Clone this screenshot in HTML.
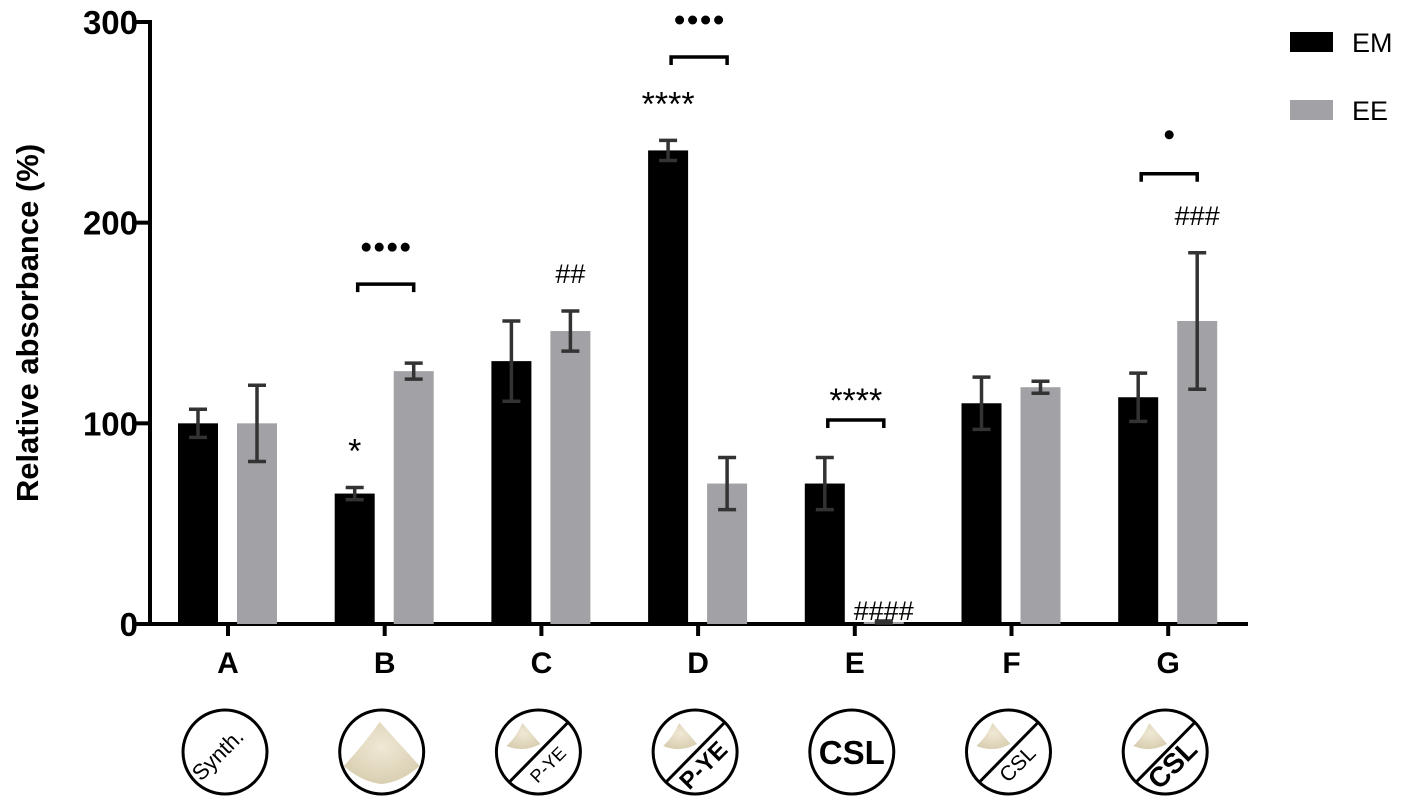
<!DOCTYPE html>
<html><head><meta charset="utf-8"><style>
body{margin:0;background:#fff;}
svg{display:block;font-family:"Liberation Sans",sans-serif;}
</style></head><body>
<svg id="c" width="1417" height="810">
<defs><radialGradient id="pw" cx="50%" cy="40%" r="60%"><stop offset="0" stop-color="#efe8d4"/><stop offset="1" stop-color="#d9cfb2"/></radialGradient></defs>
</svg>
<script>
const categories=["A","B","C","D","E","F","G"];
const emValues=[100,65,131,236,70,110,113];
const emErrors=[7,3,20,5,13,13,12];
const eeValues=[100,126,146,70,1,118,151];
const eeErrors=[19,4,10,13,0.5,3,34];
const yTicks=[0,100,200,300];
const annotations=[{g:1,s:"em",t:"*"},{g:2,s:"ee",t:"##"},{g:3,s:"em",t:"****"},{g:4,s:"em",t:"****",br:true},{g:4,s:"ee",t:"####"},{g:6,s:"ee",t:"###"}];
const svg=document.getElementById('c');
const NS="http://www.w3.org/2000/svg";
function el(tag,attrs,parent){const e=document.createElementNS(NS,tag);for(const k in attrs)e.setAttribute(k,attrs[k]);(parent||svg).appendChild(e);return e;}
const y0=624,yTop=22,x0=150;
function yS(v){return y0-(v/300)*(y0-yTop);}
function xC(i){return 228+i*156.7;}
let a=el('line',{x1:x0,y1:yTop-2,x2:x0,y2:y0+2,stroke:'#000','stroke-width':4});

a=el('line',{x1:x0-2,y1:y0,x2:1248,y2:y0,stroke:'#000','stroke-width':4});

yTicks.forEach(v=>{
 let t=el('line',{x1:x0-14,y1:yS(v),x2:x0,y2:yS(v),stroke:'#000','stroke-width':4});
 
 let l=el('text',{x:x0-12,y:yS(v)+12,'text-anchor':'end','font-size':33,'font-weight':'bold'});l.textContent=v;
 
});
let yl=el('text',{x:0,y:0,transform:'translate(38,323) rotate(-90)','text-anchor':'middle','font-size':31,'font-weight':'bold'});
yl.textContent='Relative absorbance (%)';

function bar(x,v,e,col,name){
 let r=el('rect',{x:x,y:yS(v),width:40,height:y0-yS(v),fill:col});
 
 const cx=x+20,g=el('g',{stroke:'#333','stroke-width':3.5});
 
 el('line',{x1:cx,y1:yS(v+e),x2:cx,y2:yS(v-e)},g);
 el('line',{x1:cx-9,y1:yS(v+e),x2:cx+9,y2:yS(v+e)},g);
 el('line',{x1:cx-9,y1:yS(v-e),x2:cx+9,y2:yS(v-e)},g);
}
categories.forEach((c,i)=>{
 bar(xC(i)-50,emValues[i],emErrors[i],'#000','bar-em-'+c);
 bar(xC(i)+9,eeValues[i],eeErrors[i],'#a2a2a6','bar-ee-'+c);
 let t=el('line',{x1:xC(i),y1:y0,x2:xC(i),y2:y0+12,stroke:'#000','stroke-width':4});
 
 let l=el('text',{x:xC(i),y:673,'text-anchor':'middle','font-size':30,'font-weight':'bold'});l.textContent=c;
 
});
const brackets=[{g:1,dots:4},{g:3,dots:4},{g:4,dots:0},{g:6,dots:1}];
brackets.forEach(b=>{
 const top=Math.max(emValues[b.g]+emErrors[b.g],eeValues[b.g]+eeErrors[b.g]);
 let by=yS(top)-79; if(b.g==4)by=420; if(b.g==3)by=57;
 const cx=xC(b.g),g=el('g',{fill:'none',stroke:'#000','stroke-width':3.5});
 
 el('path',{d:`M${cx-27} ${by+8}V${by}H${cx+29}V${by+8}`},g);
 if(b.dots){const dg=el('g',{fill:'#000'});
  
  const dy=b.dots==1?by-39:by-37;
  for(let k=0;k<b.dots;k++){el('circle',{cx:cx+1+(k-(b.dots-1)/2)*13,cy:dy,r:4.5},dg);}
 }
});
annotations.forEach(n=>{
 const i=n.g,x=n.s=='em'?xC(i)-30:xC(i)+29;
 const v=n.s=='em'?emValues[i]+emErrors[i]:eeValues[i]+eeErrors[i];
 const isStar=n.t[0]=='*';
 let cy=isStar?yS(v)-45:yS(v)-37;
 if(n.br){cy=392;}
 if(n.t=='####')cy=yS(v)-10;
 let xx=x; if(n.br)xx=xC(i)+1;
 let t=el('text',{x:xx,y:isStar?cy+20:cy+9,'text-anchor':'middle','font-size':isStar?34:27});
 t.textContent=n.t;
});
[['EM','#000',42],['EE','#a2a2a6',110]].forEach(L=>{
 let r=el('rect',{x:1290,y:L[2]-10,width:43,height:20,fill:L[1]});
 
 let t=el('text',{x:1352,y:L[2]+10,'font-size':27});t.textContent=L[0];
 
});
const icons=[{txt:"Synth.",rot:-45,slash:false,pile:0,fs:22,bold:false,tx:-2,ty:8},
{txt:"",slash:false,pile:2},
{txt:"P-YE",rot:-45,slash:true,pile:1,fs:18,bold:false,tx:14,ty:17},
{txt:"P-YE",rot:-45,slash:true,pile:1,fs:24,bold:true,tx:14,ty:19},
{txt:"CSL",rot:0,slash:false,pile:0,fs:33,bold:true,tx:0,ty:12},
{txt:"CSL",rot:-45,slash:true,pile:1,fs:21,bold:false,tx:14,ty:17},
{txt:"CSL",rot:-45,slash:true,pile:1,fs:28,bold:true,tx:14,ty:19}];
icons.forEach((ic,i)=>{
 const cx=xC(i)-3,cy=752,g=el('g',{});
 
 el('circle',{cx:cx,cy:cy,r:42,fill:'#fff',stroke:'#000','stroke-width':3},g);
 if(ic.pile==2)el('path',{d:`M${cx-38} ${cy+14}Q${cx-20} ${cy-5} ${cx-2} ${cy-30}Q${cx+18} ${cy-8} ${cx+38} ${cy+14}Q${cx+20} ${cy+30} ${cx} ${cy+32}Q${cx-20} ${cy+30} ${cx-38} ${cy+14}Z`,fill:'url(#pw)'},g);
 if(ic.pile==1)el('path',{d:`M${cx-32} ${cy-6}Q${cx-22} ${cy-15} ${cx-16} ${cy-29}Q${cx-4} ${cy-15} ${cx+2} ${cy-8}Q${cx-15} ${cy+1} ${cx-32} ${cy-6}Z`,fill:'url(#pw)'},g);
 if(ic.slash)el('line',{x1:cx-29,y1:cy+30,x2:cx+30,y2:cy-30,stroke:'#000','stroke-width':3},g);
 if(ic.txt){let t=el('text',{x:0,y:0,transform:`translate(${cx+ic.tx},${cy+ic.ty}) rotate(${ic.rot})`,'text-anchor':'middle','font-size':ic.fs,'font-weight':ic.bold?'bold':'normal'},g);t.textContent=ic.txt;}
});
</script>
</body></html>
